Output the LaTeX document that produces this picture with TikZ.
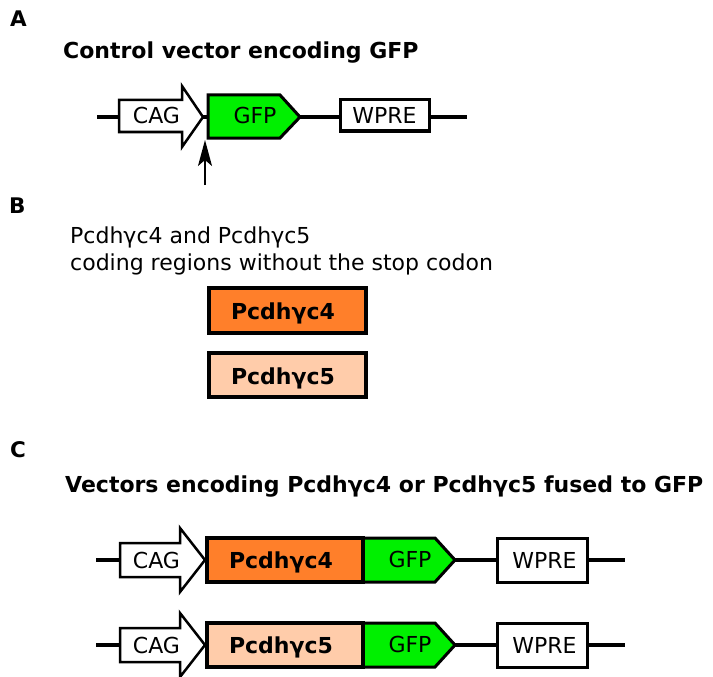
\documentclass[tikz,border=0pt]{standalone}
\usepackage{fontspec}
\setmainfont{DejaVu Sans}
\usetikzlibrary{arrows.meta}
\definecolor{gfpgreen}{HTML}{00F000}
\definecolor{pcorange}{HTML}{FF7F2A}
\definecolor{pcpeach}{HTML}{FFCCAA}
\tikzset{
  txt/.style={inner sep=0pt, font=\fontsize{22}{27}\selectfont},
  btxt/.style={inner sep=0pt, font=\fontsize{22}{27}\selectfont\bfseries},
  panel/.style={inner sep=0pt, anchor=base west, font=\fontsize{21.5}{26}\selectfont\bfseries},
  backbone/.style={line width=4.5pt},
  promoter/.style={draw, fill=white, line width=2.5pt, line join=miter},
  gfpbox/.style={draw, fill=gfpgreen, line width=3pt, line join=miter},
  wprebox/.style={draw, fill=white, line width=3pt},
  pcbox/.style={draw, line width=3.2pt},
}
\begin{document}
\begin{tikzpicture}[x=1pt, y=-1pt]
\useasboundingbox (0,0) rectangle (713,677);

% ---------- Panel A ----------
\node[panel] (labA) at (10,27) {A};
\node[btxt, anchor=base west] (titA) at (63,59) {Control vector encoding GFP};
\coordinate (aL) at (97,117);
\coordinate (aR) at (467,117);
\draw[backbone] (aL) -- (aR);
\draw[promoter] (119,100) -- (182,100) -- (182,86) -- (203,117) -- (182,147) -- (182,132) -- (119,132) -- cycle;
\node[txt, anchor=base] (cagA) at (156.5,124) {CAG};
\draw[gfpbox] (208,95) -- (280,95) -- (300,117) -- (280,138) -- (208,138) -- cycle;
\node[txt, anchor=base] (gfpA) at (255,124) {GFP};
\draw[wprebox] (340,100) rectangle (429,131);
\node[txt, anchor=base] (wpreA) at (384.5,124) {WPRE};
\coordinate (arrBot) at (205,185);
\coordinate (arrTop) at (205,140);
\draw[line width=1.5pt, -{Stealth[length=26pt, width=14pt, inset=6pt]}] (arrBot) -- (arrTop);

% ---------- Panel B ----------
\node[panel] (labB) at (9,213) {B};
\node[txt, anchor=base west] (bl1) at (70,243) {Pcdhγc4 and Pcdhγc5};
\node[txt, anchor=base west] (bl2) at (70,270) {coding regions without the stop codon};
\draw[pcbox, fill=pcorange] (209,288) rectangle (366,333);
\node[btxt, anchor=base] (bc4) at (283,319) {Pcdhγc4};
\draw[pcbox, fill=pcpeach] (209,353) rectangle (366,397);
\node[btxt, anchor=base] (bc5) at (283,384) {Pcdhγc5};

% ---------- Panel C ----------
\node[panel] (labC) at (10,457) {C};
\node[btxt, anchor=base west] (titC) at (65,492) {Vectors encoding Pcdhγc4 or Pcdhγc5 fused to GFP};

\foreach \dy/\col/\nm in {0/pcorange/Pcdhγc4, 85/pcpeach/Pcdhγc5}{
  \begin{scope}[yshift=-\dy pt]
    \coordinate (cL) at (96,560);
    \coordinate (cR) at (625,560);
    \draw[backbone] (cL) -- (cR);
    \draw[promoter] (120,543) -- (180,543) -- (180,528) -- (205,560) -- (180,592) -- (180,577) -- (120,577) -- cycle;
    \node[txt, anchor=base] (cagC) at (156.5,568) {CAG};
    \draw[gfpbox] (363,538) -- (435,538) -- (455,560) -- (435,582) -- (363,582) -- cycle;
    \draw[pcbox, fill=\col] (207,538) rectangle (363,582);
    \node[btxt, anchor=base] (pcC) at (281,568) {\nm};
    \node[txt, anchor=base] (gfpC) at (410,567) {GFP};
    \draw[wprebox] (497,538) rectangle (587,582);
    \node[txt, anchor=base] (wpreC) at (544.5,568) {WPRE};
  \end{scope}
}
\end{tikzpicture}
\end{document}
